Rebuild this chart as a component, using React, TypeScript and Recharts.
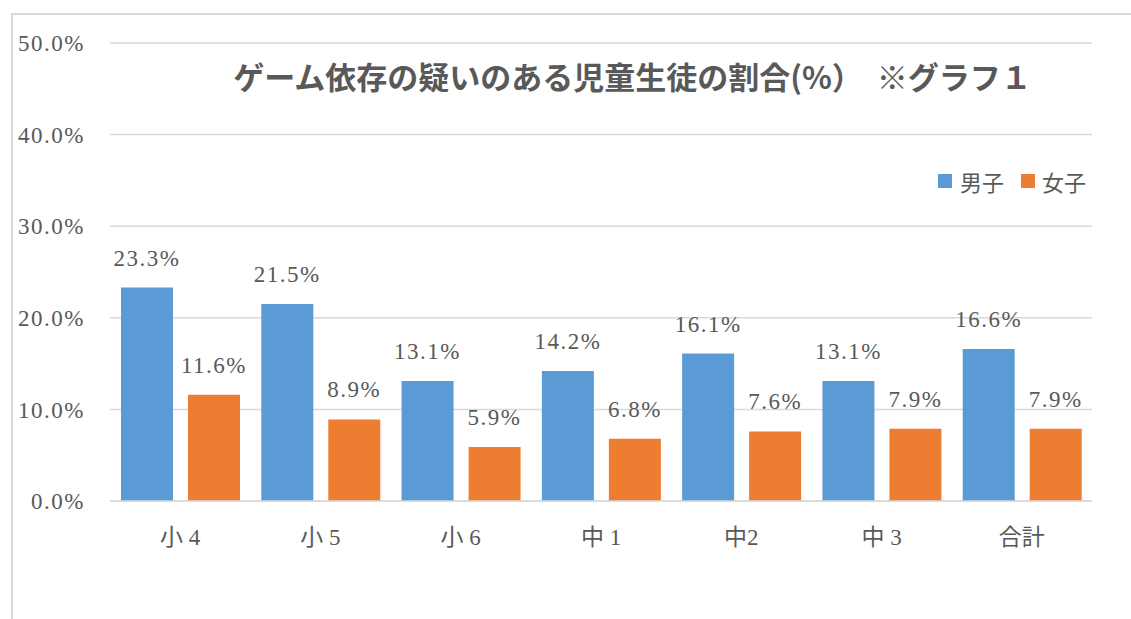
import { BarChart, Bar, XAxis, YAxis, CartesianGrid, LabelList } from "recharts";

const grades = ["小 4", "小 5", "小 6", "中 1", "中2", "中 3", "合計"];
const boys = [23.3, 21.5, 13.1, 14.2, 16.1, 13.1, 16.6];
const girls = [11.6, 8.9, 5.9, 6.8, 7.6, 7.9, 7.9];
const yTicks = [0, 10, 20, 30, 40, 50];

const data = grades.map((name, i) => ({ name, boys: boys[i], girls: girls[i] }));

const BLUE = "#5b9bd5";
const ORANGE = "#ed7d31";
const TEXT = "#595959";
const GRID = "#d9d9d9";
const SERIF = "'Liberation Serif', 'DejaVu Serif', 'Noto Sans CJK JP', serif";

const fmt = (v: number) => v.toFixed(1) + "%";

const numStyle = { fontSize: 23, fill: TEXT, fontFamily: SERIF, letterSpacing: 1.5 };

const LegendBox = () => (
  <div
    style={{
      position: "absolute",
      left: 938,
      top: 165,
      display: "flex",
      alignItems: "center",
      fontFamily: SERIF,
      fontSize: 22,
      color: TEXT,
      whiteSpace: "nowrap",
    }}
  >
    <span style={{ width: 14, height: 14, background: BLUE, display: "inline-block", marginRight: 8 }} />
    <span style={{ marginRight: 17 }}>男子</span>
    <span style={{ width: 14, height: 14, background: ORANGE, display: "inline-block", marginRight: 7 }} />
    <span>女子</span>
  </div>
);

const App = () => {
  return (
    <div style={{ position: "absolute", left: 0, top: 0, width: 1131, height: 619, background: "#fff" }}>
      <div
        style={{
          position: "absolute",
          left: 11,
          top: 13,
          width: 1120,
          height: 606,
          borderTop: `2px solid ${GRID}`,
          borderLeft: `2px solid ${GRID}`,
        }}
      />
      <div
        style={{
          position: "absolute",
          left: 0,
          width: 1131,
          top: 53,
          paddingLeft: 134,
          boxSizing: "border-box",
          textAlign: "center",
          fontFamily: "'Noto Sans CJK JP', sans-serif",
          fontWeight: 700,
          fontSize: 31,
          color: TEXT,
          whiteSpace: "pre",
        }}
      >
        {"ゲーム依存の疑いのある児童生徒の割合(%）  ※グラフ１"}
      </div>
      <LegendBox />
      <div style={{ position: "absolute", left: 0, top: 0 }}>
        <BarChart
          width={1131}
          height={619}
          data={data}
          margin={{ top: 43, right: 39, bottom: 88, left: 0 }}
          barSize={52}
          barGap={15}
        >
          <CartesianGrid vertical={false} stroke={GRID} strokeWidth={1.5} />
          <XAxis
            dataKey="name"
            height={30}
            tickLine={false}
            axisLine={{ stroke: GRID, strokeWidth: 1.5 }}
            tickMargin={22}
            tick={{ ...numStyle, letterSpacing: 0, fontSize: 23 }}
          />
          <YAxis
            width={110}
            domain={[0, 50]}
            ticks={yTicks}
            tickFormatter={fmt}
            axisLine={false}
            tickLine={false}
            tickMargin={19}
            tick={numStyle}
          />
          <Bar dataKey="boys" name="男子" fill={BLUE} isAnimationActive={false}>
            <LabelList
              dataKey="boys"
              position="top"
              offset={22}
              formatter={(v: any) => fmt(Number(v))}
              style={numStyle}
            />
          </Bar>
          <Bar dataKey="girls" name="女子" fill={ORANGE} isAnimationActive={false}>
            <LabelList
              dataKey="girls"
              position="top"
              offset={22}
              formatter={(v: any) => fmt(Number(v))}
              style={numStyle}
            />
          </Bar>
        </BarChart>
      </div>
    </div>
  );
};

export default App;
